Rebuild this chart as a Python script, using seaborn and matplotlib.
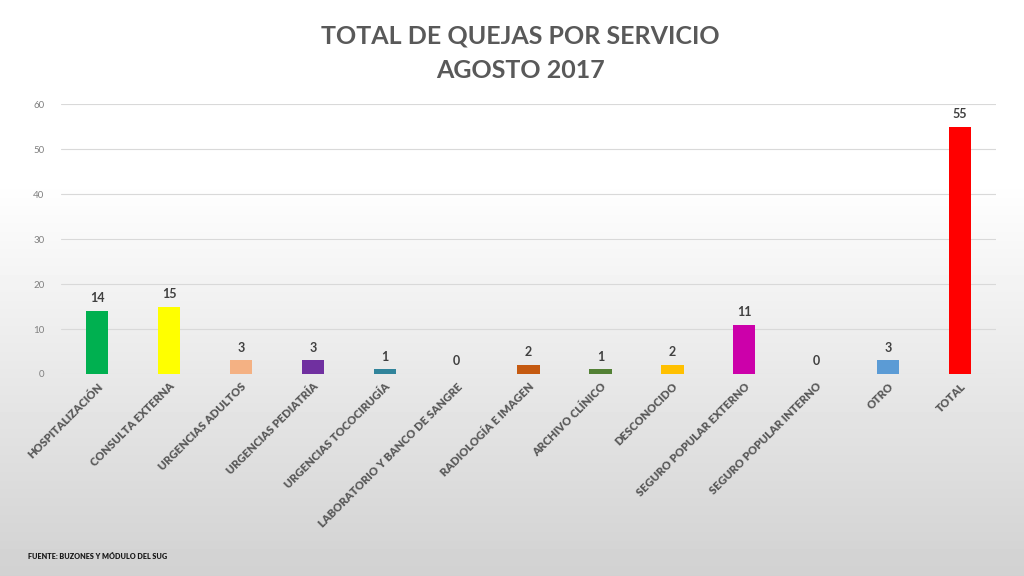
import matplotlib
matplotlib.use("Agg")
import matplotlib.pyplot as plt
import numpy as np
import pandas as pd
import seaborn as sns

CATEGORIES = [
    "HOSPITALIZACIÓN", "CONSULTA EXTERNA", "URGENCIAS ADULTOS", "URGENCIAS PEDIATRÍA",
    "URGENCIAS TOCOCIRUGÍA", "LABORATORIO Y BANCO DE SANGRE", "RADIOLOGÍA E IMAGEN",
    "ARCHIVO CLÍNICO", "DESCONOCIDO", "SEGURO POPULAR EXTERNO", "SEGURO POPULAR INTERNO",
    "OTRO", "TOTAL",
]
QUEJAS = [14, 15, 3, 3, 1, 0, 2, 1, 2, 11, 0, 3, 55]
COLORS = [
    "#00B050", "#FFFF00", "#F4B183", "#7030A0", "#31849B", "#A5A5A5", "#C55A11",
    "#538135", "#FFC000", "#CC00AA", "#7F7F7F", "#5B9BD5", "#FF0000",
]
TITLE = "TOTAL DE QUEJAS POR SERVICIO\nAGOSTO 2017"
SOURCE = "FUENTE: BUZONES Y MÓDULO DEL SUG"

df = pd.DataFrame({"servicio": CATEGORIES, "quejas": QUEJAS})

sns.set_theme(style="white")
plt.rcParams["font.family"] = ["Lato", "DejaVu Sans"]

fig = plt.figure(figsize=(10.24, 5.76), dpi=100)

# background gradient: white on top, light grey at the bottom
bg = fig.add_axes([0, 0, 1, 1], zorder=-10)
grad = np.concatenate([np.ones(180), np.linspace(1.0, 0.82, 396)])[:, None]
bg.imshow(grad, aspect="auto", cmap="gray", vmin=0, vmax=1, extent=[0, 1, 0, 1])
bg.set_axis_off()

ax = fig.add_axes([0.0596, 0.3507, 0.9131, 0.4687])
ax.patch.set_alpha(0)
sns.barplot(data=df, x="servicio", y="quejas", hue="servicio", palette=COLORS,
            legend=False, width=0.31, saturation=1, linewidth=0, ax=ax)

for c in ax.containers:
    ax.bar_label(c, padding=5, fontsize=9, fontweight="bold", color="#404040")

ax.set_ylim(0, 60)
ax.set_yticks(range(0, 61, 10))
ax.set_xlim(-0.5, len(CATEGORIES) - 0.5)
ax.grid(axis="y", color="#d9d9d9", linewidth=0.8)
ax.set_axisbelow(True)
for s in ax.spines.values():
    s.set_visible(False)
ax.tick_params(axis="y", labelsize=7, colors="#808080", length=0, pad=12)
ax.tick_params(axis="x", length=0, pad=5)
ax.set_xlabel("")
ax.set_ylabel("")
plt.setp(ax.get_xticklabels(), rotation=45, ha="right", rotation_mode="anchor",
         fontsize=8, fontweight="heavy", color="#595959")

fig.text(0.508, 0.958, TITLE, ha="center", va="top", fontsize=18, fontweight="bold",
         color="#595959", linespacing=1.6)
fig.text(0.027, 0.033, SOURCE, ha="left", va="center", fontsize=5.2,
         fontweight="heavy", color="#1a1a1a")

fig.savefig("out.png", dpi=100)
